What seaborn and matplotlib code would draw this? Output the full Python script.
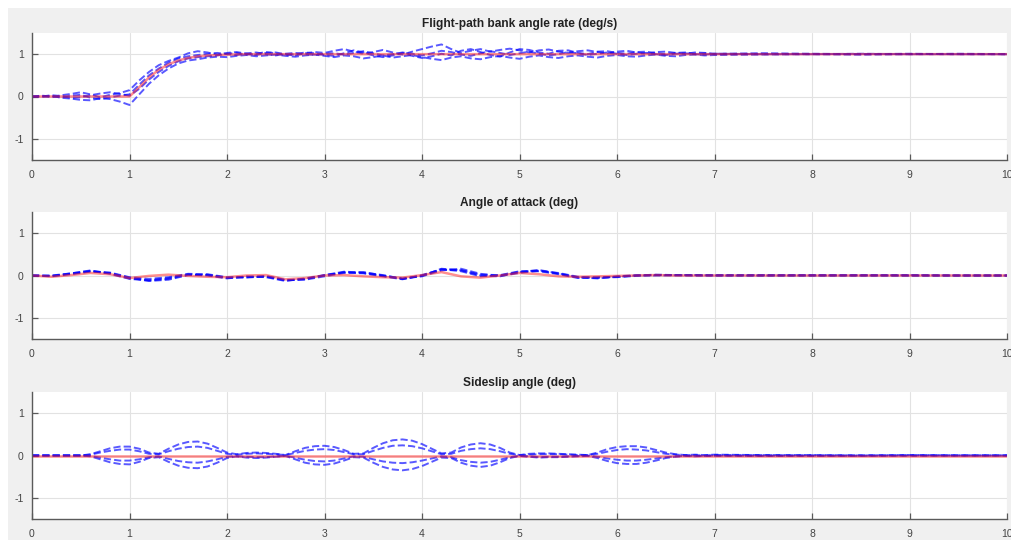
import numpy as np
import pandas as pd
import seaborn as sns
import matplotlib.pyplot as plt
from matplotlib.patches import Rectangle

sns.set_style("ticks")
plt.rcParams["font.family"] = ["Liberation Sans", "DejaVu Sans"]
plt.rcParams["axes.unicode_minus"] = False

# time grids (s)
t_fast = np.round(np.concatenate([np.arange(0, 7.01, 0.1), [7.5, 8, 8.5, 9, 9.5, 10]]), 2)
t_slow = np.round(np.concatenate([np.arange(0, 7.01, 0.2), [7.5, 8, 8.5, 9, 9.5, 10]]), 2)

# --- flight-path bank angle rate (deg/s) ---
bank_ref_t = [0, 1.0, 1.1, 1.2, 1.3, 1.4, 1.5, 1.6, 1.7, 1.8, 1.9, 2.0, 2.2, 2.5, 10]
bank_ref = [0, 0, 0.22, 0.45, 0.63, 0.76, 0.85, 0.91, 0.95, 0.97, 0.98, 0.99, 1.0, 1.0, 1.0]

bank_run1 = [0.00, 0.01, -0.02, 0.03, 0.06, 0.10, 0.05, -0.02, 0.04, 0.08, 0.15,
             0.38, 0.58, 0.74, 0.84, 0.92, 1.02, 1.07, 1.04, 0.99, 1.03,
             1.05, 1.01, 0.98, 1.03, 1.04, 1.00, 0.97, 1.02, 1.05, 1.03,
             1.08, 1.12, 1.06, 1.01, 1.05, 1.10, 1.04, 0.99, 1.06, 1.12,
             1.18, 1.23, 1.12, 1.03, 1.08, 1.12, 1.06, 1.10, 1.13, 1.09,
             1.04, 1.09, 1.11, 1.06, 1.03, 1.07, 1.09, 1.05, 1.02, 1.06,
             1.08, 1.04, 1.01, 1.05, 1.06, 1.03, 1.01, 1.04, 1.03, 1.01,
             1.02, 1.01, 1.00, 1.01, 1.00, 1.00]
bank_run2 = [0.00, -0.01, 0.02, -0.03, -0.05, -0.08, -0.09, -0.04, -0.06, -0.12, -0.20,
             0.05, 0.30, 0.50, 0.66, 0.78, 0.85, 0.88, 0.92, 0.94, 0.93,
             0.96, 0.98, 0.95, 0.97, 0.99, 0.96, 0.94, 0.97, 0.99, 0.96,
             0.93, 0.97, 0.95, 0.90, 0.93, 0.97, 0.92, 0.95, 0.98, 0.93,
             0.89, 0.86, 0.92, 0.95, 0.90, 0.88, 0.93, 0.96, 0.92, 0.89,
             0.94, 0.97, 0.93, 0.91, 0.95, 0.97, 0.94, 0.92, 0.96, 0.98,
             0.95, 0.94, 0.97, 0.99, 0.96, 0.95, 0.98, 0.99, 0.97, 0.98,
             0.99, 1.00, 0.99, 1.00, 1.00, 1.00]
bank_run3 = [0.00, 0.02, 0.00, -0.02, 0.02, 0.04, -0.03, -0.06, -0.02, 0.02, 0.05,
             0.28, 0.50, 0.66, 0.80, 0.90, 0.95, 0.98, 1.01, 1.03, 1.00,
             0.98, 1.02, 1.04, 1.00, 0.97, 1.01, 1.03, 1.00, 0.98, 1.01,
             1.02, 0.99, 1.03, 1.07, 1.02, 0.97, 1.00, 1.04, 1.01, 0.97,
             1.02, 1.08, 1.05, 0.99, 0.96, 1.02, 1.07, 1.03, 0.98, 1.02,
             1.06, 1.01, 0.97, 1.00, 1.05, 1.02, 0.98, 1.01, 1.04, 1.01,
             0.98, 1.01, 1.03, 1.00, 0.98, 1.01, 1.02, 1.00, 0.99, 1.01,
             1.00, 1.00, 1.01, 1.00, 1.00, 1.00]
bank_run4 = [0.00, 0.00, 0.03, 0.01, -0.03, -0.02, 0.03, 0.07, 0.10, 0.06, 0.02,
             0.18, 0.40, 0.58, 0.72, 0.83, 0.90, 0.93, 0.95, 0.97, 1.01,
             1.03, 0.99, 1.01, 1.05, 1.02, 0.98, 1.00, 1.04, 1.02, 0.98,
             0.96, 1.02, 1.09, 1.04, 0.97, 0.93, 0.97, 1.03, 0.96, 0.91,
             0.95, 1.01, 0.97, 1.08, 1.12, 1.05, 0.98, 0.94, 1.04, 1.12,
             1.10, 1.04, 1.01, 1.08, 1.09, 1.03, 1.00, 1.06, 1.07, 1.03,
             1.01, 1.05, 1.06, 1.02, 1.00, 1.03, 1.04, 1.01, 1.02, 1.00,
             1.01, 1.00, 1.00, 1.00, 1.01, 1.00]

# --- angle of attack (deg) ---
aoa_ref = [0.00, -0.03, 0.01, 0.06, 0.03, -0.06, -0.01, 0.02, -0.01, -0.03,
           -0.04, 0.00, 0.01, -0.09, -0.06, 0.00, 0.01, -0.02, -0.04, -0.05,
           0.01, 0.08, -0.02, -0.05, 0.00, 0.06, 0.03, -0.02, -0.03, -0.02,
           -0.01, 0.00, 0.01, 0.00, 0.00, 0.00,
           0.00, 0.00, 0.00, 0.00, 0.00, 0.00]
aoa_run1 = [0.00, -0.01, 0.04, 0.10, 0.05, -0.07, -0.11, -0.06, 0.03, 0.01,
            -0.06, -0.03, -0.03, -0.12, -0.08, 0.00, 0.08, 0.06, -0.01, -0.08,
            0.00, 0.15, 0.10, -0.02, 0.00, 0.09, 0.12, 0.04, -0.05, -0.06,
            -0.02, 0.01, 0.01, 0.00, 0.01, 0.00,
            0.00, 0.01, 0.00, 0.00, 0.00, 0.00]
aoa_run2 = [0.00, 0.00, 0.05, 0.11, 0.06, -0.05, -0.13, -0.10, 0.01, 0.02,
            -0.05, -0.05, -0.02, -0.10, -0.10, -0.02, 0.06, 0.08, 0.00, -0.07,
            -0.02, 0.12, 0.16, 0.04, -0.01, 0.06, 0.11, 0.06, -0.03, -0.05,
            -0.04, -0.01, 0.01, 0.01, 0.00, 0.01,
            0.00, 0.00, 0.01, 0.00, 0.00, 0.00]
aoa_run3 = [0.00, -0.02, 0.03, 0.09, 0.07, -0.04, -0.08, -0.04, 0.04, 0.03,
            -0.04, -0.04, -0.01, -0.11, -0.09, 0.01, 0.07, 0.05, -0.02, -0.09,
            0.01, 0.14, 0.13, 0.02, 0.01, 0.10, 0.10, 0.03, -0.06, -0.04,
            -0.03, 0.00, 0.02, 0.01, 0.00, 0.00,
            0.01, 0.00, 0.00, 0.00, 0.00, 0.00]
aoa_run4 = [0.00, -0.01, 0.05, 0.12, 0.04, -0.08, -0.12, -0.08, 0.02, 0.00,
            -0.07, -0.02, -0.04, -0.13, -0.07, 0.01, 0.09, 0.07, 0.01, -0.08,
            -0.01, 0.16, 0.12, 0.00, -0.02, 0.08, 0.13, 0.05, -0.04, -0.07,
            -0.03, 0.00, 0.00, 0.01, 0.01, 0.00,
            0.00, 0.00, 0.00, 0.01, 0.00, 0.00]

# --- sideslip angle (deg) ---
beta_ref_t = [0, 10]
beta_ref = [0, 0]
beta_run1 = [0, 0, 0, 0, 0, 0,
             0.03, 0.10, 0.17, 0.21, 0.21, 0.16, 0.07,
             0.04, 0.16, 0.26, 0.32, 0.33, 0.28, 0.18, 0.07,
             0.03, 0.06, 0.07, 0.06, 0.04, 0.01,
             0.10, 0.18, 0.22, 0.23, 0.20, 0.13, 0.04,
             0.05, 0.18, 0.29, 0.36, 0.38, 0.35, 0.27, 0.16, 0.05,
             0.07, 0.19, 0.26, 0.29, 0.26, 0.18, 0.07, 0.01,
             0.04, 0.05, 0.05, 0.04, 0.03, 0.02, 0.01,
             0.07, 0.15, 0.20, 0.22, 0.22, 0.19, 0.13, 0.07, 0.03, 0.01,
             0.02, 0.01, 0.02,
             0.01, 0.01, 0.00, 0.01, 0.00, 0.00]
beta_run2 = [0, 0, 0, 0, 0, 0,
             0.02, 0.07, 0.11, 0.14, 0.14, 0.10, 0.04,
             0.03, 0.10, 0.16, 0.20, 0.21, 0.18, 0.11, 0.04,
             0.02, 0.04, 0.05, 0.04, 0.03, 0.01,
             0.06, 0.11, 0.14, 0.15, 0.13, 0.08, 0.03,
             0.03, 0.11, 0.18, 0.23, 0.24, 0.22, 0.17, 0.10, 0.03,
             0.04, 0.11, 0.15, 0.17, 0.15, 0.10, 0.04, 0.01,
             0.02, 0.03, 0.03, 0.03, 0.02, 0.01, 0.01,
             0.04, 0.09, 0.13, 0.15, 0.14, 0.12, 0.08, 0.04, 0.02, 0.01,
             0.01, 0.00, 0.01,
             0.01, 0.00, 0.00, 0.00, 0.00, 0.00]
beta_run3 = [0, 0, 0, 0, 0, 0,
             -0.01, -0.05, -0.09, -0.12, -0.12, -0.09, -0.04,
             -0.02, -0.08, -0.13, -0.16, -0.17, -0.14, -0.09, -0.03,
             -0.02, -0.03, -0.04, -0.04, -0.02, -0.01,
             -0.05, -0.10, -0.13, -0.14, -0.12, -0.07, -0.02,
             -0.03, -0.09, -0.14, -0.17, -0.18, -0.16, -0.12, -0.07, -0.02,
             -0.04, -0.11, -0.15, -0.17, -0.15, -0.10, -0.04, -0.01,
             -0.02, -0.04, -0.03, -0.03, -0.02, -0.01, 0.00,
             -0.03, -0.07, -0.10, -0.12, -0.12, -0.10, -0.07, -0.04, -0.02, -0.01,
             -0.01, -0.01, 0.00,
             -0.01, 0.00, -0.01, 0.00, 0.00, 0.00]
beta_run4 = [0, 0, 0, 0, 0, 0,
             -0.02, -0.09, -0.16, -0.20, -0.21, -0.15, -0.06,
             -0.04, -0.15, -0.24, -0.29, -0.30, -0.26, -0.17, -0.06,
             -0.02, -0.05, -0.06, -0.05, -0.03, -0.01,
             -0.09, -0.17, -0.21, -0.22, -0.19, -0.12, -0.04,
             -0.05, -0.17, -0.27, -0.33, -0.35, -0.32, -0.25, -0.15, -0.05,
             -0.06, -0.17, -0.24, -0.27, -0.24, -0.16, -0.06, -0.01,
             -0.03, -0.05, -0.04, -0.04, -0.03, -0.02, -0.01,
             -0.06, -0.13, -0.18, -0.20, -0.20, -0.17, -0.12, -0.06, -0.03, -0.01,
             -0.02, -0.01, -0.01,
             -0.01, -0.01, 0.00, 0.00, 0.00, 0.00]

panels = [
    ("Flight-path bank angle rate (deg/s)", t_fast,
     [bank_run1, bank_run2, bank_run3, bank_run4], bank_ref_t, bank_ref),
    ("Angle of attack (deg)", t_slow,
     [aoa_run1, aoa_run2, aoa_run3, aoa_run4], t_slow, aoa_ref),
    ("Sideslip angle (deg)", t_fast,
     [beta_run1, beta_run2, beta_run3, beta_run4], beta_ref_t, beta_ref),
]

W, H = 1012, 540
fig = plt.figure(figsize=(W / 100, H / 100), dpi=100, facecolor="white")
fig.add_artist(Rectangle((8 / W, 0), 1, 532 / H, transform=fig.transFigure,
                         facecolor="#f0f0f0", edgecolor="none", zorder=-10))

tops = [33, 212, 392]
ax_h = 127
for (title, tx, runs, rt, rv), top in zip(panels, tops):
    ax = fig.add_axes([32 / W, 1 - (top + ax_h) / H, 975 / W, ax_h / H])
    df = pd.DataFrame({
        "t": np.tile(tx, len(runs)),
        "value": np.concatenate(runs),
        "run": np.repeat(np.arange(len(runs)), len(tx)),
    })
    sns.lineplot(data=df, x="t", y="value", units="run", estimator=None,
                 color="#0000ff", linestyle="--", lw=1.4, alpha=0.65, ax=ax)
    sns.lineplot(x=rt, y=rv, color="#ff2020", lw=1.8, alpha=0.5, ax=ax)
    ax.set_xlim(0, 10)
    ax.set_ylim(-1.5, 1.5)
    ax.set_xticks(range(11))
    ax.set_yticks([-1, 0, 1])
    ax.set_xlabel("")
    ax.set_ylabel("")
    ax.set_facecolor("white")
    ax.grid(True, color="#e2e2e2", lw=0.8)
    ax.set_axisbelow(True)
    for s in ("top", "right"):
        ax.spines[s].set_visible(False)
    for s in ("left", "bottom"):
        ax.spines[s].set_color("#5a5a5a")
        ax.spines[s].set_linewidth(1.0)
    ax.tick_params(direction="in", length=4, width=0.9, color="#5a5a5a",
                   labelsize=7.5, labelcolor="#444444")
    ax.tick_params(axis="y", pad=6)
    ax.tick_params(axis="x", pad=7)
    ax.set_title(title, fontsize=8.6, fontweight="bold", color="#222222", pad=4)

fig.savefig("out.png", dpi=100, facecolor="white")
